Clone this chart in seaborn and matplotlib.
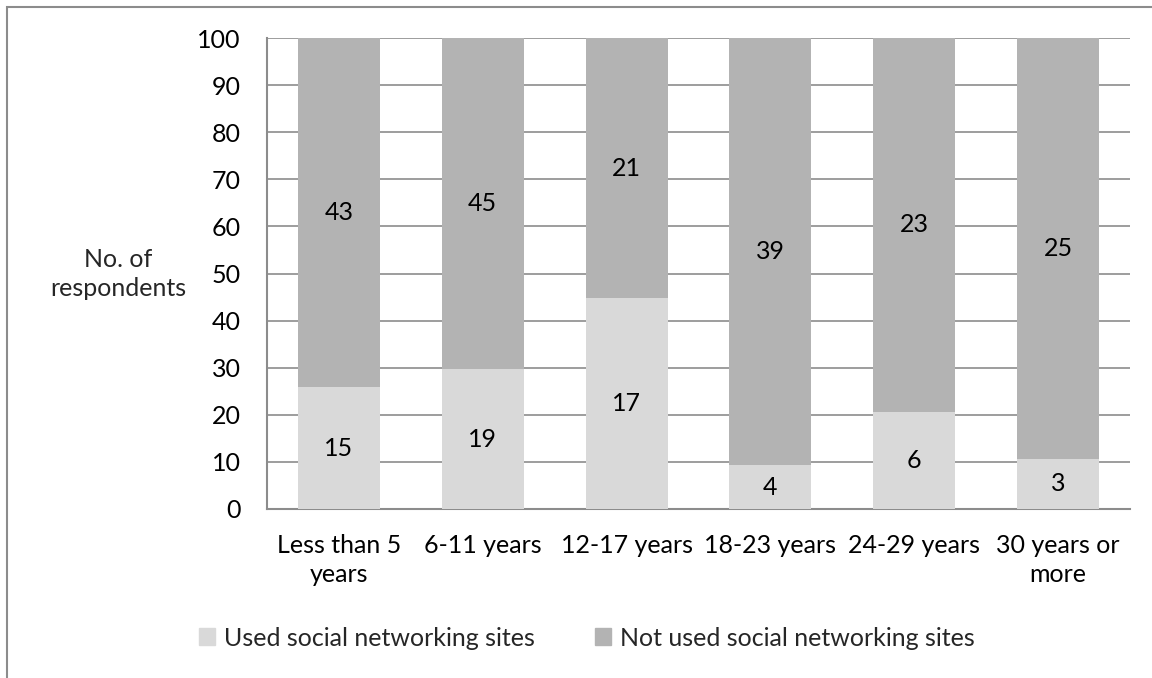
import matplotlib
matplotlib.use("Agg")
import matplotlib.pyplot as plt
import matplotlib.patches as mpatches
import seaborn as sns
import pandas as pd
import numpy as np

categories = ["Less than 5\nyears", "6-11 years", "12-17 years", "18-23 years", "24-29 years", "30 years or\nmore"]
used = [15, 19, 17, 4, 6, 3]
not_used = [43, 45, 21, 39, 23, 25]
series_names = ["Used social networking sites", "Not used social networking sites"]

used_color = "#d9d9d9"
not_used_color = "#b3b3b3"
grid_color = "#8c8c8c"

sns.set_theme(style="white")
plt.rcParams['font.family'] = ['Lato', 'DejaVu Sans']
FS = 18

totals = np.array(used) + np.array(not_used)
used_pct = np.array(used) / totals * 100
df = pd.DataFrame({"cat": categories, "used_pct": used_pct, "total": 100.0})

fig = plt.figure(figsize=(11.52, 6.78), dpi=100)
ax = fig.add_axes([267/1152, 1 - 509/678, (1130 - 267)/1152, (509 - 38)/678])

sns.barplot(data=df, x="cat", y="total", color=not_used_color, width=0.57,
            saturation=1, linewidth=0, ax=ax, zorder=2)
sns.barplot(data=df, x="cat", y="used_pct", color=used_color, width=0.57,
            saturation=1, linewidth=0, ax=ax, zorder=3)

cont_total, cont_used = ax.containers[0], ax.containers[1]
for i, (bt, bu) in enumerate(zip(cont_total, cont_used)):
    xc = bu.get_x() + bu.get_width() / 2
    yu = bu.get_height() / 2
    yn = bu.get_height() + (bt.get_height() - bu.get_height()) / 2
    ax.text(xc, yu, str(used[i]), ha="center", va="center", fontsize=FS, color="black", zorder=5)
    ax.text(xc, yn, str(not_used[i]), ha="center", va="center", fontsize=FS, color="black", zorder=5)

ax.set_ylim(0, 100)
ax.set_yticks(range(0, 101, 10))
ax.set_xlim(-0.5, len(categories) - 0.5)
ax.yaxis.grid(True, color=grid_color, linewidth=1.2, zorder=1)
ax.set_axisbelow(True)
ax.set_xlabel("")
ax.set_ylabel("")
ax.tick_params(axis="y", length=0, pad=19, labelsize=FS, colors="black")
ax.tick_params(axis="x", length=0, pad=18, labelsize=FS, colors="black")
for lbl in ax.get_xticklabels():
    lbl.set_linespacing(1.3)
for s in ["top", "right"]:
    ax.spines[s].set_visible(False)
for s in ["left", "bottom"]:
    ax.spines[s].set_color(grid_color)
    ax.spines[s].set_linewidth(1.5)

fig.text(118/1152, 1 - 274/678, "No. of\nrespondents", ha="center", va="center",
         fontsize=FS, linespacing=1.35)

handles = [mpatches.Patch(color=used_color, label=series_names[0]),
           mpatches.Patch(color=not_used_color, label=series_names[1])]
fig.legend(handles=handles, loc="center", bbox_to_anchor=(587/1152, 1 - 638/678),
           ncol=2, frameon=False, fontsize=FS, handlelength=0.64, handleheight=0.64,
           handletextpad=0.35, columnspacing=2.4)

border = mpatches.Rectangle((7/1152, -0.1), 1.2, 1 - 7/678 + 0.1, transform=fig.transFigure,
                            fill=False, edgecolor=grid_color, linewidth=1.5, clip_on=False)
fig.add_artist(border)

fig.savefig("out.png", dpi=100, facecolor="white")
